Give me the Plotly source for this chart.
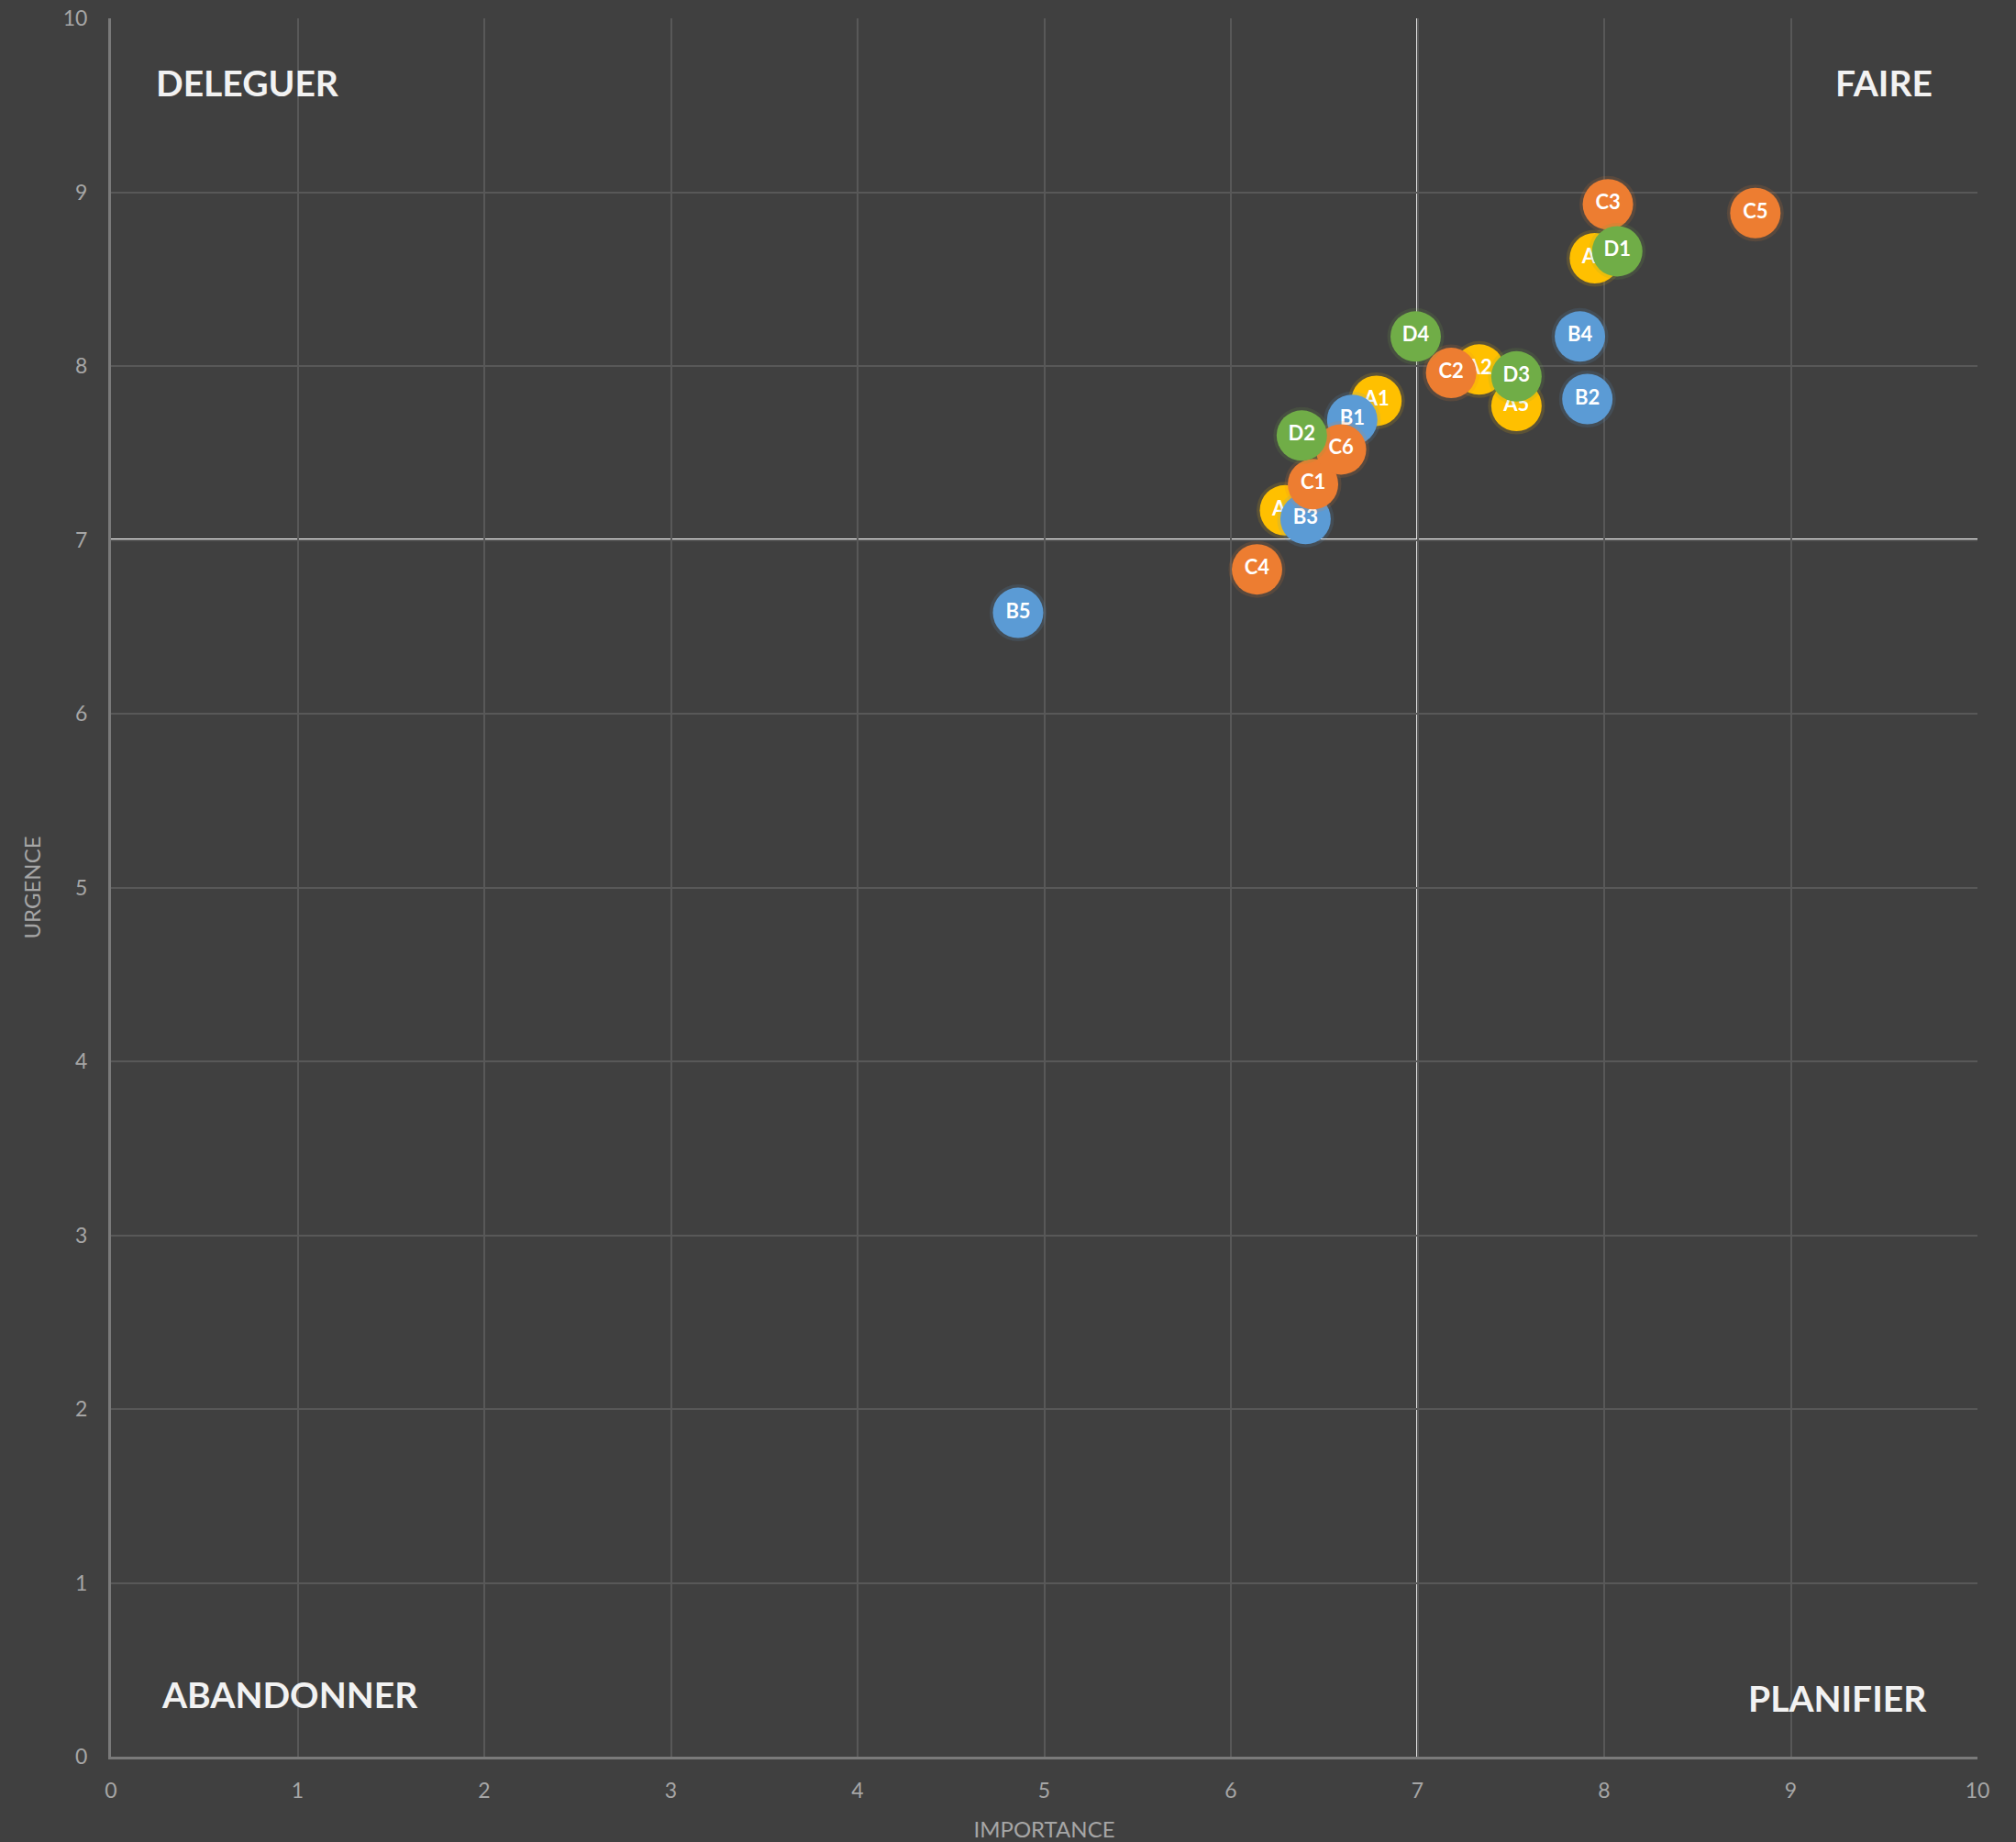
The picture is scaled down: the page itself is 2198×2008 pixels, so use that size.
import plotly.graph_objects as go

# Task priority matrix: importance (x) vs urgency (y), one series per group
series_names = ["A", "B", "C", "D"]
series_colors = ["#FFC000", "#5B9BD5", "#ED7D31", "#70AD47"]

a_labels = ["A1", "A2", "A3", "A4", "A5"]
a_importance = [6.78, 7.33, 7.95, 6.29, 7.53]
a_urgence = [7.80, 7.98, 8.62, 7.17, 7.77]

b_labels = ["B1", "B2", "B3", "B4", "B5"]
b_importance = [6.65, 7.91, 6.40, 7.87, 4.86]
b_urgence = [7.69, 7.81, 7.12, 8.17, 6.58]

c_labels = ["C1", "C2", "C3", "C4", "C5", "C6"]
c_importance = [6.44, 7.18, 8.02, 6.14, 8.81, 6.59]
c_urgence = [7.32, 7.96, 8.93, 6.83, 8.88, 7.52]

d_labels = ["D1", "D2", "D3", "D4"]
d_importance = [8.07, 6.38, 7.53, 6.99]
d_urgence = [8.66, 7.60, 7.94, 8.17]

# Quadrant split thresholds
seuil_importance = 7
seuil_urgence = 7

quadrants = ["DELEGUER", "FAIRE", "ABANDONNER", "PLANIFIER"]

axis_ticks = list(range(0, 11))

groups = [
    (a_labels, a_importance, a_urgence),
    (b_labels, b_importance, b_urgence),
    (c_labels, c_importance, c_urgence),
    (d_labels, d_importance, d_urgence),
]

BG = "#404040"
GRID = "#585858"
TICK = "#a6a6a6"
FONT = "Lato, 'Open Sans', sans-serif"

fig = go.Figure()

for name, color, (labels, xs, ys) in zip(series_names, series_colors, groups):
    # soft glow behind each bubble
    fig.add_trace(go.Scatter(
        x=xs, y=ys, mode="markers", showlegend=False, hoverinfo="skip",
        marker=dict(size=62, color=color, opacity=0.14, line=dict(width=0)),
    ))
    fig.add_trace(go.Scatter(
        x=xs, y=ys, mode="markers+text", name=name, showlegend=False,
        text=[f"<b>{t}</b>" for t in labels], textposition="middle center",
        textfont=dict(family=FONT, size=22, color="white"),
        marker=dict(size=55, color=color, line=dict(width=0)),
    ))

# Quadrant dividers
fig.add_shape(type="line", xref="x", yref="paper",
              x0=seuil_importance, x1=seuil_importance, y0=0, y1=1,
              line=dict(color="#e0e0e0", width=3), layer="below")
fig.add_shape(type="line", xref="paper", yref="y",
              x0=0, x1=1, y0=seuil_urgence, y1=seuil_urgence,
              line=dict(color="#ffffff", width=3), layer="below")

quad_pos = [
    (0.023, 0.963, "left"),
    (0.977, 0.963, "right"),
    (0.026, 0.036, "left"),
    (0.974, 0.034, "right"),
]
for label, (px, py, anchor) in zip(quadrants, quad_pos):
    fig.add_annotation(
        x=px, y=py, xref="paper", yref="paper", text=f"<b>{label}</b>",
        showarrow=False, xanchor=anchor, yanchor="middle",
        font=dict(family=FONT, size=39, color="#f2f2f2"),
    )

fig.update_xaxes(
    range=[0, 10], tickvals=axis_ticks, showgrid=True, gridcolor=GRID, gridwidth=2,
    zeroline=False, showline=True, linecolor="#7a7a7a", linewidth=3,
    mirror=False, ticks="", ticklabelstandoff=14, automargin=False,
    tickfont=dict(family=FONT, size=23, color=TICK),
    title=dict(text="IMPORTANCE", font=dict(family=FONT, size=24, color=TICK), standoff=26),
)
fig.update_yaxes(
    range=[0, 10], tickvals=axis_ticks, showgrid=True, gridcolor=GRID, gridwidth=2,
    zeroline=False, showline=True, linecolor="#7a7a7a", linewidth=3,
    ticks="", ticklabelstandoff=18, automargin=False,
    tickfont=dict(family=FONT, size=23, color=TICK),
    title=dict(text="URGENCE", font=dict(family=FONT, size=24, color=TICK), standoff=18),
)

fig.update_layout(
    width=2198, height=2008,
    margin=dict(l=121, r=42, t=20, b=93),
    paper_bgcolor=BG, plot_bgcolor=BG,
    showlegend=False,
)

fig.write_html("out.html")
